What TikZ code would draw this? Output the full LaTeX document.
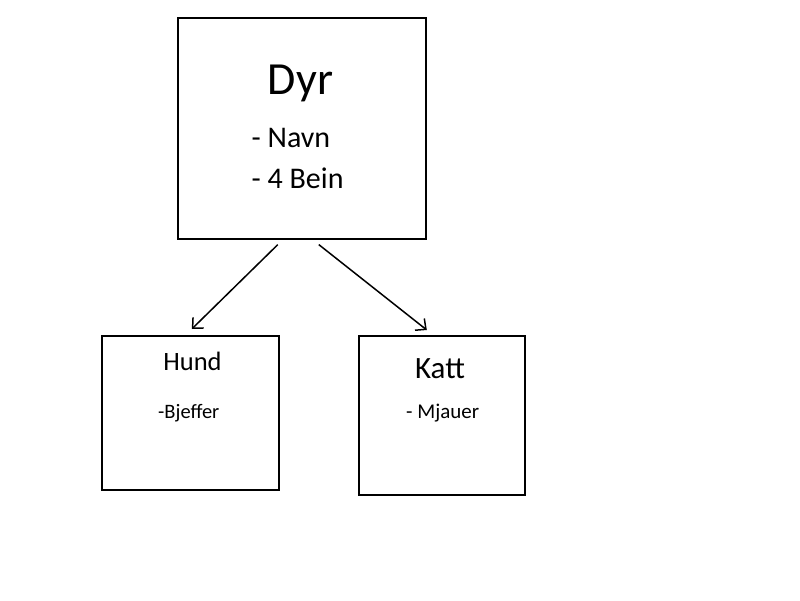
\documentclass[tikz,border=0pt]{standalone}
\usepackage{fontspec}
\setmainfont{Carlito}
\usetikzlibrary{arrows.meta}
\tikzset{
    class-box/.style = {draw=black, line width=1.6pt, rectangle, inner sep=0pt, anchor=north west},
    class-name/.style = {inner sep=0pt, anchor=base},
    class-field/.style = {inner sep=0pt, anchor=base west},
    inherit/.style = {draw=black, line width=1.5pt, -{Straight Barb[length=8pt, width=15pt]}},
}
\begin{document}
\begin{tikzpicture}[x=1pt, y=-1pt]
\useasboundingbox (0,0) rectangle (800,600);
% boxes
\node[class-box, minimum width=248pt, minimum height=221pt] (dyr) at (177,17) {};
\node[class-box, minimum width=177pt, minimum height=154pt] (hund) at (101,335) {};
\node[class-box, minimum width=166pt, minimum height=159pt] (katt) at (358,335) {};
% texts
\node[class-name, font=\fontsize{46}{50}\selectfont] (dyr-name) at (300.5,94) {Dyr};
\node[class-field, font=\fontsize{30}{34}\selectfont] (dyr-navn) at (251.5,147) {- Navn};
\node[class-field, font=\fontsize{30}{34}\selectfont] (dyr-bein) at (251.5,188) {- 4 Bein};
\node[class-name, font=\fontsize{26.5}{30}\selectfont] (hund-name) at (192.5,370) {Hund};
\node[class-field, font=\fontsize{20.5}{24}\selectfont] (hund-bjeffer) at (158,418) {-Bjeffer};
\node[class-name, font=\fontsize{31}{36}\selectfont] (katt-name) at (440,378) {Katt};
\node[class-field, font=\fontsize{21}{25}\selectfont] (katt-mjauer) at (406,418) {- Mjauer};
% arrows
\draw[inherit] ([xshift=-24pt, yshift=-5pt]dyr.south) -- ([xshift=1.5pt, yshift=6pt]hund.north);
\draw[inherit] ([xshift=17pt, yshift=-5pt]dyr.south) -- ([xshift=-15pt, yshift=5pt]katt.north);
\end{tikzpicture}
\end{document}
